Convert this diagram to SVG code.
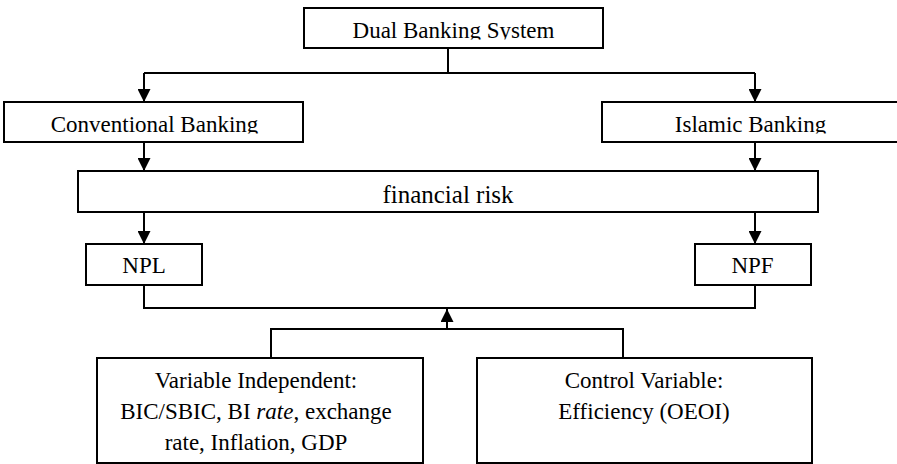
<svg xmlns="http://www.w3.org/2000/svg" width="897" height="464" viewBox="0 0 897 464">
  <style>
    .box { fill: #ffffff; stroke: #000000; stroke-width: 2; }
    .lbl { font-size: 23px; fill: #000000; text-anchor: middle; }
    .big { font-size: 25px; }
    .con { fill: none; stroke: #000000; stroke-width: 2; }
  </style>
  <defs>
    <marker id="arr" markerUnits="userSpaceOnUse" markerWidth="13" markerHeight="13" refX="13" refY="6.5" orient="auto">
      <path d="M0,0 L13,6.5 L0,13 Z" fill="#000000"/>
    </marker>
    <clipPath id="clipDual"><rect x="304" y="8" width="299" height="31.5"/></clipPath>
    <clipPath id="clipConv"><rect x="4" y="102" width="299" height="31.5"/></clipPath>
    <clipPath id="clipIsl"><rect x="602" y="102" width="300" height="31.5"/></clipPath>
  </defs>

  <g id="connectors">
    <path class="con" d="M448,48 V73"/>
    <path class="con" d="M144,73 H755"/>
    <path class="con" d="M144,73 V102" marker-end="url(#arr)"/>
    <path class="con" d="M755,73 V102" marker-end="url(#arr)"/>
    <path class="con" d="M144,142 V171" marker-end="url(#arr)"/>
    <path class="con" d="M755,142 V171" marker-end="url(#arr)"/>
    <path class="con" d="M144,212 V244" marker-end="url(#arr)"/>
    <path class="con" d="M755,212 V244" marker-end="url(#arr)"/>
    <path class="con" d="M144,285 V308 H755 V285"/>
    <path class="con" d="M271,358 V329 H623 V358"/>
    <path class="con" d="M447,329 V309" marker-end="url(#arr)"/>
  </g>

  <g font-family="'Liberation Serif', 'Times New Roman', Tinos, 'DejaVu Serif', serif">
  <g id="dual">
    <rect class="box" x="304" y="8" width="299" height="40"/>
    <text class="lbl" x="453.5" y="38" clip-path="url(#clipDual)">Dual Banking System</text>
  </g>

  <g id="conventional">
    <rect class="box" x="4" y="102" width="299" height="40"/>
    <text class="lbl" x="154.5" y="132" clip-path="url(#clipConv)">Conventional Banking</text>
  </g>

  <g id="islamic">
    <rect class="box" x="602" y="102" width="300" height="40"/>
    <text class="lbl" x="750.5" y="132" clip-path="url(#clipIsl)">Islamic Banking</text>
  </g>

  <g id="financial-risk">
    <rect class="box" x="78" y="171" width="740" height="41"/>
    <text class="lbl big" x="448" y="203">financial risk</text>
  </g>

  <g id="npl">
    <rect class="box" x="86" y="244" width="116" height="41"/>
    <text class="lbl" x="144" y="273">NPL</text>
  </g>

  <g id="npf">
    <rect class="box" x="695" y="244" width="116" height="41"/>
    <text class="lbl" x="752.5" y="273">NPF</text>
  </g>

  <g id="independent">
    <rect class="box" x="97" y="358" width="326" height="105"/>
    <text class="lbl" x="256" y="388">Variable Independent:</text>
    <text class="lbl" x="256" y="419">BIC/SBIC, BI <tspan font-style="italic">rate</tspan>, exchange</text>
    <text class="lbl" x="256" y="450">rate, Inflation, GDP</text>
  </g>

  <g id="control">
    <rect class="box" x="477" y="358" width="335" height="105"/>
    <text class="lbl" x="644" y="388">Control Variable:</text>
    <text class="lbl" x="644" y="419">Efficiency (OEOI)</text>
  </g>
  </g>
</svg>
